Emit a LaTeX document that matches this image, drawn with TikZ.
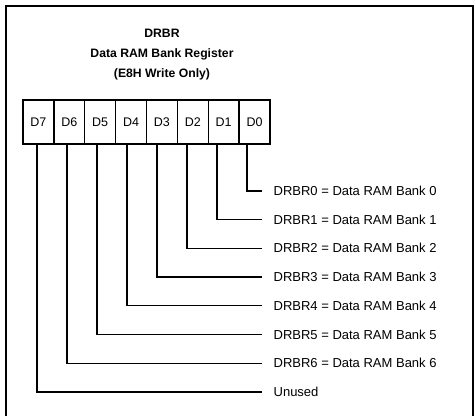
\documentclass[tikz,border=0pt]{standalone}
\usepackage{fontspec}
\setmainfont{Liberation Sans}
\begin{document}
\begin{tikzpicture}[x=1pt,y=-1pt,line width=1.3pt,
  bitbox/.style={draw,minimum width=30.875pt,minimum height=44pt,inner sep=0pt,font=\fontsize{12.5}{14}\selectfont},
  desc/.style={anchor=west,inner sep=0pt,text height=9pt,text depth=0pt,font=\fontsize{13}{15}\selectfont},
  ttl/.style={align=center,font=\bfseries\fontsize{12.2}{20}\selectfont}]
\useasboundingbox (0,0) rectangle (476,415);
\draw (6,416) -- (6,6) -- (473,6) -- (473,416);
\node[ttl] (title) at (162,55) {DRBR\\Data RAM Bank Register\\(E8H Write Only)};
\foreach \i in {0,...,7}{
  \node[bitbox] (b\i) at ({23+(7-\i)*30.875+15.4375},122) {D\i};
}
\foreach \i/\t in {0/DRBR0 = Data RAM Bank 0,1/DRBR1 = Data RAM Bank 1,2/DRBR2 = Data RAM Bank 2,3/DRBR3 = Data RAM Bank 3,4/DRBR4 = Data RAM Bank 4,5/DRBR5 = Data RAM Bank 5,6/DRBR6 = Data RAM Bank 6,7/Unused}{
  \node[desc] (l\i) at (273,{191+28.7*\i}) {\t};
  \pgfmathsetmacro{\lx}{37+30*(7-\i)}
  \draw (b\i.south -| \lx,0) |- ([xshift=-11pt]l\i.west);
}
\end{tikzpicture}
\end{document}
